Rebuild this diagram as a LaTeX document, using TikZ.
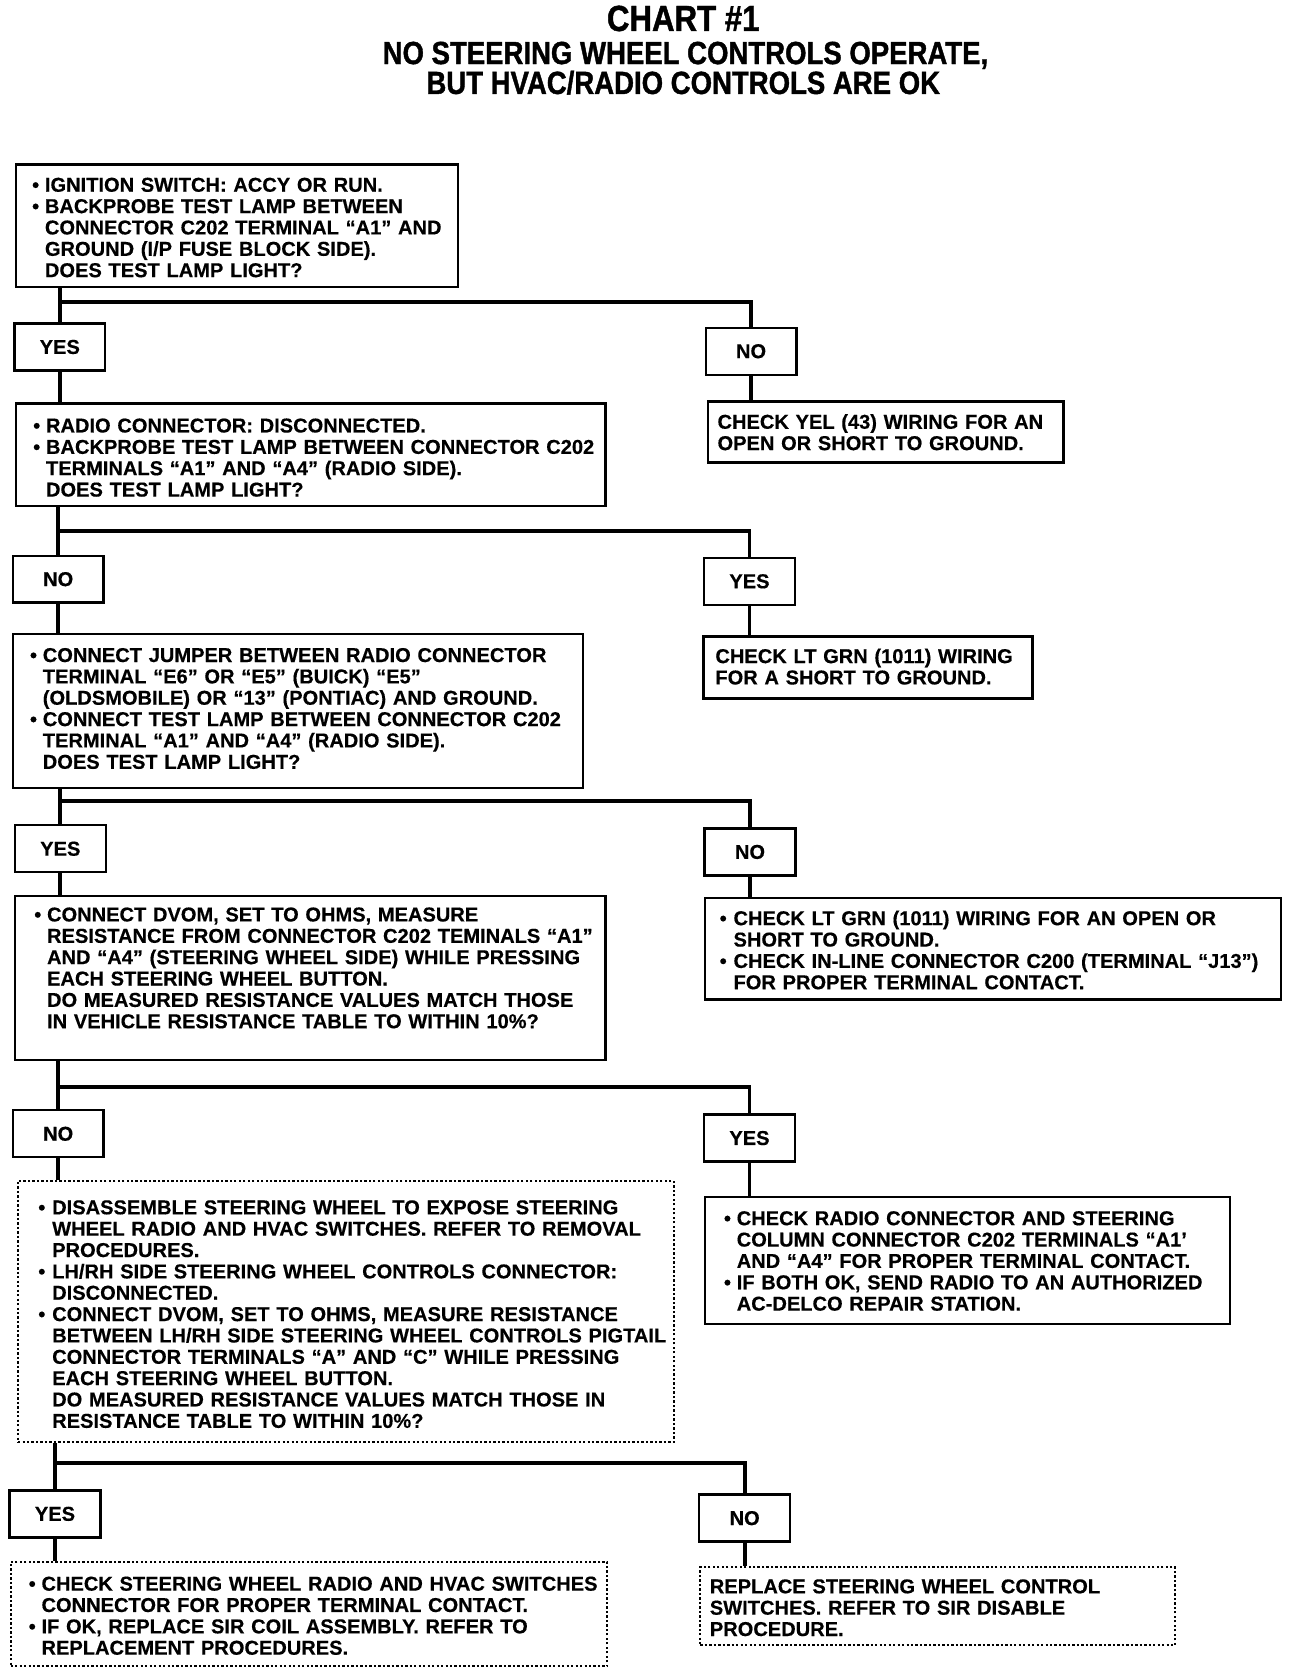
\documentclass[tikz,border=0pt]{standalone}
\usepackage{fontspec}
\setmainfont{Liberation Sans}[BoldFeatures={FakeBold=0.4}]
\newfontfamily\titlefont[FakeStretch=0.86, FakeBold=1.2]{Liberation Sans}
\usetikzlibrary{positioning}

\begin{document}
\begin{tikzpicture}[
    x=0.5pt, y=-0.5pt,
    box/.style={draw, line width=1.1pt, anchor=north west, align=left,
        inner ysep=1pt, font=\fontsize{9.4}{10}\selectfont\bfseries},
    endbox/.style={box, densely dotted, line width=0.9pt},
    sz/.style n args={3}{minimum width=#1pt, minimum height=#2pt,
        inner xsep=#3pt, text width=#1pt-2*#3pt},
    ans/.style={draw, line width=1.1pt, minimum width=42.5pt,
        minimum height=22pt, inner sep=0pt,
        font=\fontsize{9.4}{10}\selectfont\bfseries},
    flow/.style={line width=1.8pt},
    ttl/.style={anchor=base, font=\titlefont\bfseries},
]
\useasboundingbox (0,0) rectangle (1214,1568);

% --- title ---
\node[ttl, font=\titlefont\bfseries\fontsize{17}{17}\selectfont] (title) at (640,29) {CHART \#1};
\node[ttl, font=\titlefont\bfseries\fontsize{15}{15}\selectfont] (sub1) at (642,60) {NO STEERING WHEEL CONTROLS OPERATE,};
\node[ttl, font=\titlefont\bfseries\fontsize{15}{15}\selectfont] (sub2) at (640,88) {BUT HVAC/RADIO CONTROLS ARE OK};

% --- left column: the test steps ---
\node[box, sz={207}{57.5}{7.5}] (q1) at (14,153)
  {\begin{tabular}{@{}p{6pt}@{}l@{}}\noalign{\vskip4pt}
   \textbullet & IGNITION SWITCH: ACCY OR RUN.\\
   \textbullet & BACKPROBE TEST LAMP BETWEEN\\
   & CONNECTOR C202 TERMINAL ``A1'' AND\\
   & GROUND (I/P FUSE BLOCK SIDE).\\
   & DOES TEST LAMP LIGHT?
   \end{tabular}};
\node[box, sz={276}{48}{8}] (q2) at (14,377)
  {\begin{tabular}{@{}p{6pt}@{}l@{}}\noalign{\vskip5pt}
   \textbullet & RADIO CONNECTOR: DISCONNECTED.\\
   \textbullet & BACKPROBE TEST LAMP BETWEEN CONNECTOR C202\\
   & TERMINALS ``A1'' AND ``A4'' (RADIO SIDE).\\
   & DOES TEST LAMP LIGHT?
   \end{tabular}};
\node[box, sz={267}{72}{8}] (q3) at (11,593)
  {\begin{tabular}{@{}p{6pt}@{}l@{}}
   \textbullet & CONNECT JUMPER BETWEEN RADIO CONNECTOR\\
   & TERMINAL ``E6'' OR ``E5'' (BUICK) ``E5''\\
   & (OLDSMOBILE) OR ``13'' (PONTIAC) AND GROUND.\\
   \textbullet & CONNECT TEST LAMP BETWEEN CONNECTOR C202\\
   & TERMINAL ``A1'' AND ``A4'' (RADIO SIDE).\\
   & DOES TEST LAMP LIGHT?
   \end{tabular}};
\node[box, sz={276.5}{77}{9}] (q4) at (13,838)
  {\begin{tabular}{@{}p{6pt}@{}l@{}}
   \textbullet & CONNECT DVOM, SET TO OHMS, MEASURE\\
   & RESISTANCE FROM CONNECTOR C202 TEMINALS ``A1''\\
   & AND ``A4'' (STEERING WHEEL SIDE) WHILE PRESSING\\
   & EACH STEERING WHEEL BUTTON.\\
   & DO MEASURED RESISTANCE VALUES MATCH THOSE\\
   & IN VEHICLE RESISTANCE TABLE TO WITHIN 10\%?\\[7pt]
   \end{tabular}};
\node[endbox, sz={307}{122.5}{9.5}] (q5) at (16,1105)
  {\begin{tabular}{@{}p{6.5pt}@{}l@{}}\noalign{\vskip5pt}
   \textbullet & DISASSEMBLE STEERING WHEEL TO EXPOSE STEERING\\
   & WHEEL RADIO AND HVAC SWITCHES. REFER TO REMOVAL\\
   & PROCEDURES.\\
   \textbullet & LH/RH SIDE STEERING WHEEL CONTROLS CONNECTOR:\\
   & DISCONNECTED.\\
   \textbullet & CONNECT DVOM, SET TO OHMS, MEASURE RESISTANCE\\
   & BETWEEN LH/RH SIDE STEERING WHEEL CONTROLS PIGTAIL\\
   & CONNECTOR TERMINALS ``A'' AND ``C'' WHILE PRESSING\\
   & EACH STEERING WHEEL BUTTON.\\
   & DO MEASURED RESISTANCE VALUES MATCH THOSE IN\\
   & RESISTANCE TABLE TO WITHIN 10\%?
   \end{tabular}};
\node[endbox, sz={279.5}{49}{8.5}] (e1) at (9,1462)
  {\begin{tabular}{@{}p{6pt}@{}l@{}}\noalign{\vskip4pt}
   \textbullet & CHECK STEERING WHEEL RADIO AND HVAC SWITCHES\\
   & CONNECTOR FOR PROPER TERMINAL CONTACT.\\
   \textbullet & IF OK, REPLACE SIR COIL ASSEMBLY. REFER TO\\
   & REPLACEMENT PROCEDURES.
   \end{tabular}};

% --- right column: the repairs ---
\node[box, sz={166.5}{28.5}{4.5}] (r1) at (662,375)
  {\begin{tabular}{@{}l@{}}\noalign{\vskip3pt}
   CHECK YEL (43) WIRING FOR AN\\
   OPEN OR SHORT TO GROUND.
   \end{tabular}};
\node[box, sz={154}{29}{5.5}] (r2) at (658,595)
  {\begin{tabular}{@{}l@{}}\noalign{\vskip2pt}
   CHECK LT GRN (1011) WIRING\\
   FOR A SHORT TO GROUND.
   \end{tabular}};
\node[box, sz={270}{47.5}{7}] (r3) at (659,840)
  {\begin{tabular}{@{}p{6.5pt}@{}l@{}}\noalign{\vskip4pt}
   \textbullet & CHECK LT GRN (1011) WIRING FOR AN OPEN OR\\
   & SHORT TO GROUND.\\
   \textbullet & CHECK IN-LINE CONNECTOR C200 (TERMINAL ``J13'')\\
   & FOR PROPER TERMINAL CONTACT.
   \end{tabular}};
\node[box, sz={246}{59.5}{9}] (r4) at (659,1120)
  {\begin{tabular}{@{}p{6pt}@{}l@{}}\noalign{\vskip3pt}
   \textbullet & CHECK RADIO CONNECTOR AND STEERING\\
   & COLUMN CONNECTOR C202 TERMINALS ``A1'\\
   & AND ``A4'' FOR PROPER TERMINAL CONTACT.\\
   \textbullet & IF BOTH OK, SEND RADIO TO AN AUTHORIZED\\
   & AC-DELCO REPAIR STATION.
   \end{tabular}};
\node[endbox, sz={222.5}{36.5}{4.5}] (e2) at (655,1467)
  {\begin{tabular}{@{}l@{}}\noalign{\vskip4pt}
   REPLACE STEERING WHEEL CONTROL\\
   SWITCHES. REFER TO SIR DISABLE\\
   PROCEDURE.
   \end{tabular}};

% --- yes / no answers ---
\node[ans] (yes1) at (56,325)     {YES};
\node[ans] (no1)  at (703.5,329)  {NO};
\node[ans] (no2)  at (54.5,542.5) {NO};
\node[ans] (yes2) at (702,544.5)  {YES};
\node[ans] (yes3) at (56.5,795)   {YES};
\node[ans] (no3)  at (702.5,798)  {NO};
\node[ans] (no4)  at (54.5,1062)  {NO};
\node[ans] (yes4) at (702,1066)   {YES};
\node[ans] (yes5) at (51.5,1418)  {YES};
\node[ans] (no5)  at (697.5,1422) {NO};

% branch levels
\coordinate (s1) at (0,283);
\coordinate (s2) at (0,497);
\coordinate (s3) at (0,750);
\coordinate (s4) at (0,1018);
\coordinate (s5) at (0,1370);

% --- connectors ---
\draw[flow] (q1.south -| yes1) -- (yes1.north);
\draw[flow] (yes1 |- s1) -| (no1.north);
\draw[flow] (yes1.south) -- (yes1.south |- q2.north);
\draw[flow] (no1.south) -- (no1.south |- r1.north);

\draw[flow] (q2.south -| no2) -- (no2.north);
\draw[flow] (no2 |- s2) -| (yes2.north);
\draw[flow] (no2.south) -- (no2.south |- q3.north);
\draw[flow] (yes2.south) -- (yes2.south |- r2.north);

\draw[flow] (q3.south -| yes3) -- (yes3.north);
\draw[flow] (yes3 |- s3) -| (no3.north);
\draw[flow] (yes3.south) -- (yes3.south |- q4.north);
\draw[flow] (no3.south) -- (no3.south |- r3.north);

\draw[flow] (q4.south -| no4) -- (no4.north);
\draw[flow] (no4 |- s4) -| (yes4.north);
\draw[flow] (no4.south) -- (no4.south |- q5.north);
\draw[flow] (yes4.south) -- (yes4.south |- r4.north);

\draw[flow] (q5.south -| yes5) -- (yes5.north);
\draw[flow] (yes5 |- s5) -| (no5.north);
\draw[flow] (yes5.south) -- (yes5.south |- e1.north);
\draw[flow] (no5.south) -- (no5.south |- e2.north);
\end{tikzpicture}
\end{document}
